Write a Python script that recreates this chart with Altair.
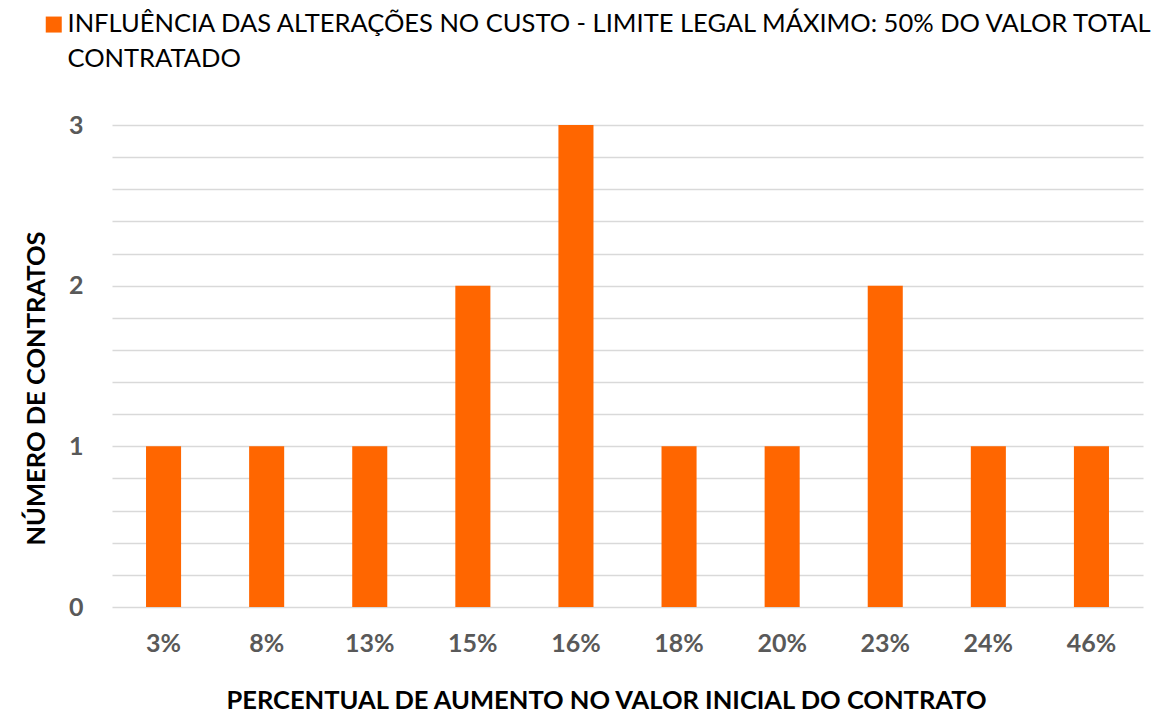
import altair as alt
import pandas as pd

categories = ["3%", "8%", "13%", "15%", "16%", "18%", "20%", "23%", "24%", "46%"]
counts = [1, 1, 1, 2, 3, 1, 1, 2, 1, 1]
series_name = "INFLUÊNCIA DAS ALTERAÇÕES NO CUSTO - LIMITE LEGAL MÁXIMO: 50% DO VALOR TOTAL|CONTRATADO"
y_ticks = [i / 5 for i in range(16)]

df = pd.DataFrame({"cat": categories, "n": counts, "serie": [series_name] * len(categories)})

FONT = "Lato"

chart = alt.Chart(df).mark_bar(color="#FF6600").encode(
    x=alt.X("cat:N", sort=None,
            scale=alt.Scale(paddingInner=0.66, paddingOuter=0.33),
            axis=alt.Axis(title="PERCENTUAL DE AUMENTO NO VALOR INICIAL DO CONTRATO",
                          labelAngle=0, domain=False, ticks=False,
                          labelPadding=24, titlePadding=32, titleX=494,
                          labelFontSize=25, labelFontWeight="bold", labelColor="#595959",
                          titleFontSize=25.5, titleFontWeight="bold", titleColor="#000000",
                          labelFont=FONT, titleFont=FONT)),
    y=alt.Y("n:Q", scale=alt.Scale(domain=[0, 3], nice=False),
            axis=alt.Axis(title="NÚMERO DE CONTRATOS", values=y_ticks,
                          labelExpr="datum.value % 1 === 0 ? '' + datum.value : ''",
                          domain=False, ticks=False, gridColor="#D9D9D9", gridWidth=1.5,
                          labelPadding=29, titlePadding=19, titleY=263,
                          labelFontSize=25, labelFontWeight="bold", labelColor="#595959",
                          titleFontSize=25.5, titleFontWeight="bold", titleColor="#000000",
                          labelFont=FONT, titleFont=FONT)),
    color=alt.Color("serie:N", scale=alt.Scale(range=["#FF6600"]),
                    legend=alt.Legend(title=None, orient="none", legendX=-71, legendY=-126,
                                      padding=0,
                                      symbolType="M-1,0.6H1V2.6H-1Z", symbolSize=256,
                                      symbolStrokeWidth=0,
                                      labelFont=FONT, labelFontSize=25.5, labelColor="#000000",
                                      labelLimit=2000, labelBaseline="top", labelOffset=1,
                                      labelExpr="split(datum.label, '|')")),
).properties(
    width=1031, height=482,
    autosize=alt.AutoSizeParams(type="none"),
    padding={"left": 104, "top": 117, "right": 22, "bottom": 110},
).configure(style={"guide-label": {"lineHeight": 35}}).configure_view(stroke=None)

chart.save("out.html", embed_options={"renderer": "svg", "actions": False})
